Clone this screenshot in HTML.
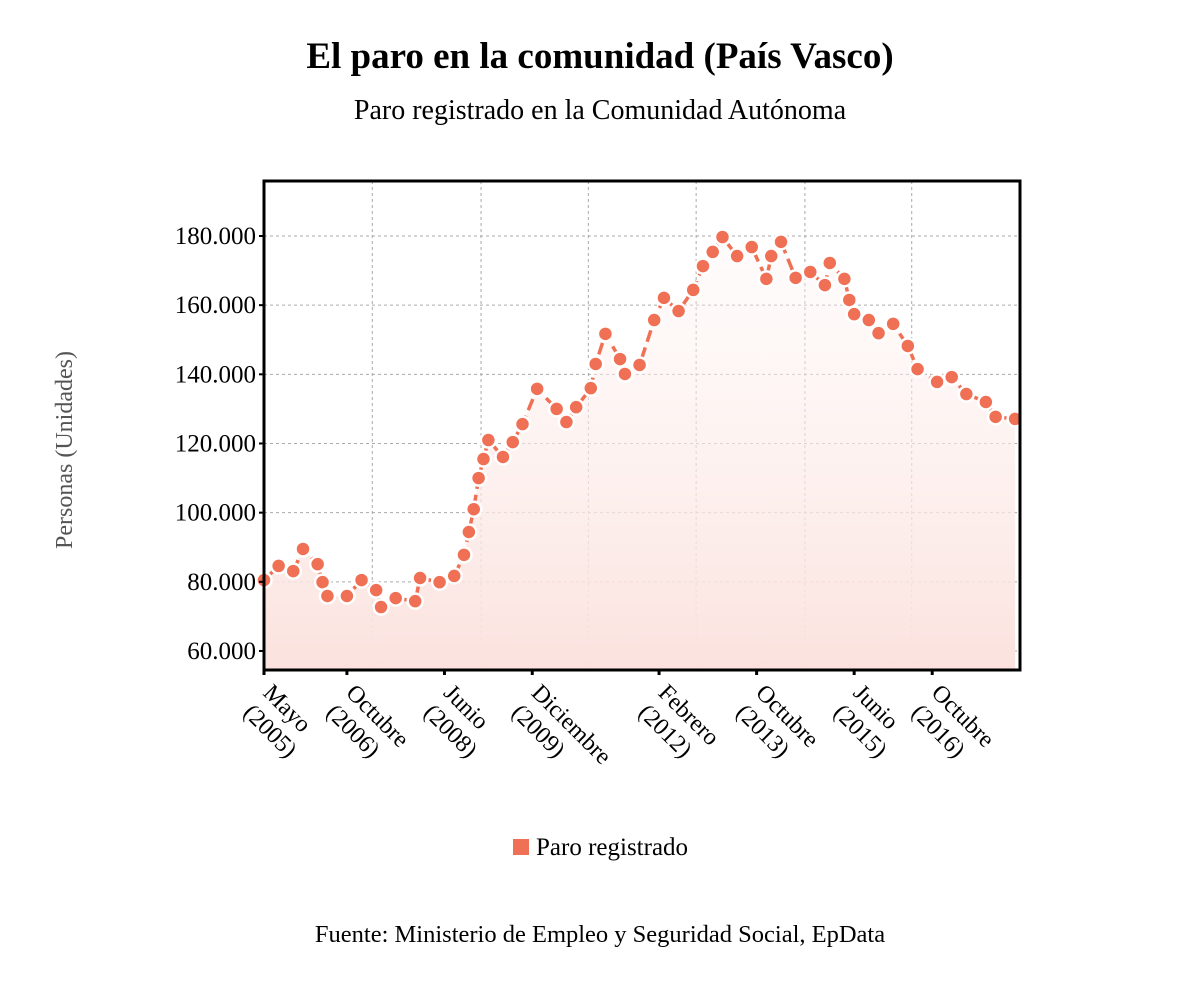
<!DOCTYPE html>
<html><head><meta charset="utf-8">
<style>
body{margin:0;background:#fff;}
svg{display:block;font-family:"Liberation Serif",serif;}
</style></head>
<body>
<svg id="chart" width="1200" height="983">
<defs>
<linearGradient id="areaGrad" x1="0" y1="0" x2="0" y2="1">
<stop offset="0" stop-color="#fdf4f2" stop-opacity="0.3"/>
<stop offset="1" stop-color="#fbe2de"/>
</linearGradient>
</defs>
<text x="600" y="68" text-anchor="middle" font-size="37" font-weight="bold">El paro en la comunidad (País Vasco)</text>
<text x="600" y="119" text-anchor="middle" font-size="28">Paro registrado en la Comunidad Autónoma</text>
<text transform="translate(72,450) rotate(-90)" text-anchor="middle" font-size="24" fill="#555">Personas (Unidades)</text>
<g id="grid"></g>
<g id="area"></g>
<g id="line"></g>
<g id="points"></g>
<rect x="264" y="181" width="756" height="489" fill="none" stroke="#000" stroke-width="3"/>
<g id="yaxis"></g>
<g id="xaxis"></g>
<rect x="513" y="839" width="16" height="16" fill="#f07055"/>
<text x="536" y="855" font-size="25">Paro registrado</text>
<text x="600" y="942" text-anchor="middle" font-size="24.5">Fuente: Ministerio de Empleo y Seguridad Social, EpData</text>
</svg>
<script>
const months=[0,3,6,8,11,12,13,17,20,23,24,27,31,32,36,39,41,42,43,44,45,46,49,51,53,56,60,62,64,67,68,70,73,74,77,80,82,85,88,90,92,94,97,100,103,104,106,109,112,115,116,119,120,121,124,126,129,132,134,138,141,144,148,150,154];
const values=[80500,84600,83100,89500,85100,79900,75900,75900,80500,77600,72700,75300,74400,81100,79900,81700,87800,94400,101000,110000,115500,121000,116100,120400,125600,135800,130000,126200,130500,136000,143000,151700,144400,140100,142700,155700,162100,158300,164400,171300,175400,179700,174200,176800,167600,174200,178300,167900,169600,165800,172200,167600,161500,157400,155700,151900,154600,148200,141500,137800,139200,134300,132000,127700,127100];
const yTicks=[60000,80000,100000,120000,140000,160000,180000];
const xTickMonths=[0,17,37,55,81,101,121,137];
const xTickLabels=[["Mayo","(2005)"],["Octubre","(2006)"],["Junio","(2008)"],["Diciembre","(2009)"],["Febrero","(2012)"],["Octubre","(2013)"],["Junio","(2015)"],["Octubre","(2016)"]];
const gridMonths=[22.2,44.5,66.5,88.6,110.9,132.8];

const X0=264,X1=1020,Y0=181,Y1=670,M0=0,M1=155,V0=54500,V1=195900;
const NS="http://www.w3.org/2000/svg";
const x=m=>X0+(m-M0)/(M1-M0)*(X1-X0);
const y=v=>Y1-(v-V0)/(V1-V0)*(Y1-Y0);
function mk(t,a,p){const e=document.createElementNS(NS,t);for(const k in a)e.setAttribute(k,a[k]);p.appendChild(e);return e;}
const grid=document.getElementById('grid');
yTicks.forEach(v=>{const l=mk('line',{x1:X0,x2:X1,y1:y(v),y2:y(v),stroke:'#aaa','stroke-dasharray':'3,3'},grid);

});
gridMonths.forEach(m=>{const l=mk('line',{x1:x(m),x2:x(m),y1:Y0,y2:Y1,stroke:'#aaa','stroke-dasharray':'3,3'},grid);

});
const pts=months.map((m,i)=>[x(m),y(values[i])]);
const d=pts.map((p,i)=>(i?'L':'M')+p[0].toFixed(1)+','+p[1].toFixed(1)).join('');
const area=mk('path',{d:d+'L'+x(months[months.length-1])+','+Y1+'L'+x(months[0])+','+Y1+'Z',fill:'url(#areaGrad)'},document.getElementById('area'));


const line=mk('path',{d:d,fill:'none',stroke:'#f07055','stroke-width':3.5,'stroke-dasharray':'12,6'},document.getElementById('line'));


const pg=document.getElementById('points');
pts.forEach(p=>{const c=mk('circle',{cx:p[0],cy:p[1],r:7.5,fill:'#f07055',stroke:'#fff','stroke-width':2.5},pg);

});
const ya=document.getElementById('yaxis');
yTicks.forEach(v=>{mk('line',{x1:X0-5,x2:X0,y1:y(v),y2:y(v),stroke:'#000','stroke-width':2},ya);
const t=mk('text',{x:X0-8,y:y(v)+8,'text-anchor':'end','font-size':25},ya);


t.textContent=v.toLocaleString('de-DE');});
const xa=document.getElementById('xaxis');
xTickMonths.forEach((m,i)=>{const tx=x(m);mk('line',{x1:tx,x2:tx,y1:Y1,y2:Y1+5,stroke:'#000','stroke-width':3},xa);
const t=mk('text',{transform:'translate('+(tx-2)+','+(Y1+24)+') rotate(45)','font-size':24},xa);


xTickLabels[i].forEach((s,j)=>{const ts=mk('tspan',{x:0,dy:j?28:0},t);ts.textContent=s;});});
</script>
</body></html>
